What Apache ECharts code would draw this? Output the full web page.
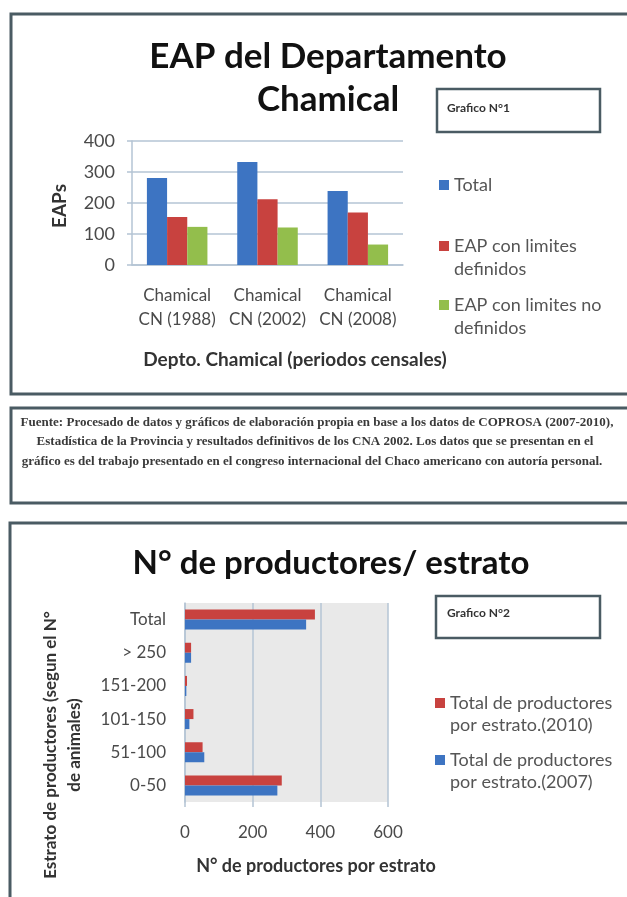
<!DOCTYPE html>
<html><head><meta charset="utf-8">
<script src="https://cdn.jsdelivr.net/npm/echarts@6/dist/echarts.min.js"></script>
<style>html,body{margin:0;padding:0;background:#fff}#c{width:627px;height:897px}</style>
</head><body><div id="c"></div>
<script>
// ---- Chart 1 data ----
const censusCategories = ['Chamical\nCN (1988)', 'Chamical\nCN (2002)', 'Chamical\nCN (2008)'];
const eapTotal = [281, 332, 239];
const eapDefined = [155, 212, 169];
const eapUndefined = [123, 121, 66];
const eapSeriesNames = ['Total', 'EAP con limites\ndefinidos', 'EAP con limites no\ndefinidos'];

// ---- Chart 2 data ----
const strata = ['Total', '> 250', '151-200', '101-150', '51-100', '0-50'];
const producers2010 = [384, 18, 6, 25, 52, 286];
const producers2007 = [358, 18, 4, 13, 57, 273];
const producerSeriesNames = ['Total de productores\npor estrato.(2010)', 'Total de productores\npor estrato.(2007)'];

const sourceLines = [
  'Fuente: Procesado de datos y gráficos de elaboración propia en base a los datos de COPROSA (2007-2010),',
  'Estadística de la Provincia y resultados definitivos de los CNA 2002. Los datos que se presentan en el',
  'gráfico es del trabajo presentado en el congreso internacional del Chaco americano con autoría personal.'
];

const FONT = 'Lato, "Open Sans", sans-serif';
const BLUE = '#3d74c2', RED = '#c8423f', GREEN = '#93be4c';
const AXIS = '#b4c4d4', LABEL = '#4a4a4a', FRAME = '#4a5b63';

const chart = echarts.init(document.getElementById('c'), null, {renderer: 'canvas'});

function legendItem(name, color, left, top, lh, fs) {
  return {
    orient: 'vertical', left: left, top: top, padding: 0,
    itemWidth: 10, itemHeight: 10, icon: 'rect',
    data: [{name: name, itemStyle: {color: color}}],
    formatter: n => (n.indexOf('\n') >= 0 ? '\n' + n : n),
    textStyle: {fontFamily: FONT, fontSize: fs, color: '#555', lineHeight: lh}
  };
}

const option = {
  animation: false,
  backgroundColor: '#fff',
  textStyle: {fontFamily: FONT},
  title: [
    {text: 'EAP del Departamento\nChamical', left: 323, top: 30, textAlign: 'center',
     textStyle: {fontFamily: FONT, fontSize: 35, fontWeight: 'bold', color: '#111', lineHeight: 43}},
    {text: 'N° de productores/ estrato', left: 326, top: 538, textAlign: 'center',
     textStyle: {fontFamily: FONT, fontSize: 33, fontWeight: 'bold', color: '#111', lineHeight: 40}}
  ],
  legend: [
    legendItem(eapSeriesNames[0], BLUE, 439, 173.5, 23, 18),
    legendItem(eapSeriesNames[1], RED, 439, 211.5, 23, 18),
    legendItem(eapSeriesNames[2], GREEN, 439, 270.5, 23, 18),
    legendItem(producerSeriesNames[0], RED, 435, 670, 22, 18),
    legendItem(producerSeriesNames[1], BLUE, 435, 727, 22, 18)
  ],
  grid: [
    {left: 132, top: 141, width: 271, height: 124, containLabel: false},
    {left: 185, top: 603, width: 203, height: 199, containLabel: false,
     show: true, backgroundColor: '#e9e9e9', borderWidth: 0}
  ],
  xAxis: [
    {type: 'category', gridIndex: 0, data: censusCategories,
     axisLine: {show: true, lineStyle: {color: AXIS, width: 1.5}},
     axisTick: {show: false},
     axisLabel: {fontFamily: FONT, fontSize: 17, color: LABEL, lineHeight: 24, margin: 19, interval: 0}},
    {type: 'value', gridIndex: 1, min: 0, max: 600, interval: 200,
     axisLine: {show: false},
     axisTick: {show: true, length: 5, lineStyle: {color: AXIS, width: 1.5}},
     splitLine: {show: true, lineStyle: {color: AXIS, width: 1.5}},
     axisLabel: {fontFamily: FONT, fontSize: 17, color: LABEL, margin: 22}}
  ],
  yAxis: [
    {type: 'value', gridIndex: 0, min: 0, max: 400, interval: 100,
     axisLine: {show: true, lineStyle: {color: AXIS, width: 1.5}},
     axisTick: {show: true, length: 5, lineStyle: {color: AXIS, width: 1.5}},
     splitLine: {show: true, lineStyle: {color: AXIS, width: 1.5}},
     axisLabel: {fontFamily: FONT, fontSize: 18, color: LABEL, margin: 17}},
    {type: 'category', gridIndex: 1, data: strata, inverse: true,
     axisLine: {show: true, lineStyle: {color: AXIS, width: 1.5}},
     axisTick: {show: false},
     axisLabel: {fontFamily: FONT, fontSize: 17, color: LABEL, margin: 19, interval: 0}}
  ],
  series: [
    {name: eapSeriesNames[0], type: 'bar', xAxisIndex: 0, yAxisIndex: 0, data: eapTotal,
     itemStyle: {color: BLUE}, barGap: '0%', barCategoryGap: '33%'},
    {name: eapSeriesNames[1], type: 'bar', xAxisIndex: 0, yAxisIndex: 0, data: eapDefined,
     itemStyle: {color: RED}},
    {name: eapSeriesNames[2], type: 'bar', xAxisIndex: 0, yAxisIndex: 0, data: eapUndefined,
     itemStyle: {color: GREEN}},
    {name: producerSeriesNames[0], type: 'bar', xAxisIndex: 1, yAxisIndex: 1, data: producers2010,
     itemStyle: {color: RED}, barGap: '0%', barWidth: 10},
    {name: producerSeriesNames[1], type: 'bar', xAxisIndex: 1, yAxisIndex: 1, data: producers2007,
     itemStyle: {color: BLUE}, barWidth: 10}
  ],
  graphic: [
    // frames
    {type: 'rect', shape: {x: 11, y: 14, width: 640, height: 380}, style: {fill: 'none', stroke: FRAME, lineWidth: 3}},
    {type: 'rect', shape: {x: 11, y: 408, width: 640, height: 95}, style: {fill: 'none', stroke: FRAME, lineWidth: 3}},
    {type: 'rect', shape: {x: 10, y: 523, width: 640, height: 420}, style: {fill: 'none', stroke: FRAME, lineWidth: 3}},
    // "Grafico" boxes
    {type: 'rect', shape: {x: 437, y: 89, width: 163, height: 43}, style: {fill: 'none', stroke: FRAME, lineWidth: 2.5}},
    {type: 'text', x: 447, y: 108, style: {text: 'Grafico N°1', font: 'bold 12px ' + FONT, fill: '#333', verticalAlign: 'middle'}},
    {type: 'rect', shape: {x: 436, y: 596, width: 164, height: 42}, style: {fill: 'none', stroke: FRAME, lineWidth: 2.5}},
    {type: 'text', x: 447, y: 613, style: {text: 'Grafico N°2', font: 'bold 12px ' + FONT, fill: '#333', verticalAlign: 'middle'}},
    // axis titles
    {type: 'text', x: 60, y: 206, rotation: Math.PI / 2,
     style: {text: 'EAPs', font: 'bold 19px ' + FONT, fill: '#333', align: 'center', verticalAlign: 'middle'}},
    {type: 'text', x: 295, y: 360, style: {text: 'Depto. Chamical (periodos censales)', font: 'bold 19px ' + FONT, fill: '#333', align: 'center', verticalAlign: 'middle'}},
    {type: 'text', x: 316, y: 866, style: {text: 'N° de productores por estrato', font: 'bold 18px ' + FONT, fill: '#333', align: 'center', verticalAlign: 'middle'}},
    {type: 'text', x: 63, y: 745, rotation: Math.PI / 2,
     style: {text: 'Estrato de productores (segun el N°\nde animales)', font: 'bold 17px ' + FONT, lineHeight: 24, fill: '#333', align: 'center', verticalAlign: 'middle'}},
    // source text
    {type: 'text', x: 317, y: 423, style: {text: sourceLines[0], font: 'bold 13px "Liberation Serif", serif', fill: '#3a3a3a', align: 'center', verticalAlign: 'middle'}},
    {type: 'text', x: 315, y: 442, style: {text: sourceLines[1], font: 'bold 13px "Liberation Serif", serif', fill: '#3a3a3a', align: 'center', verticalAlign: 'middle'}},
    {type: 'text', x: 312, y: 462, style: {text: sourceLines[2], font: 'bold 13px "Liberation Serif", serif', fill: '#3a3a3a', align: 'center', verticalAlign: 'middle'}}
  ]
};
chart.setOption(option);
</script>
</body></html>
